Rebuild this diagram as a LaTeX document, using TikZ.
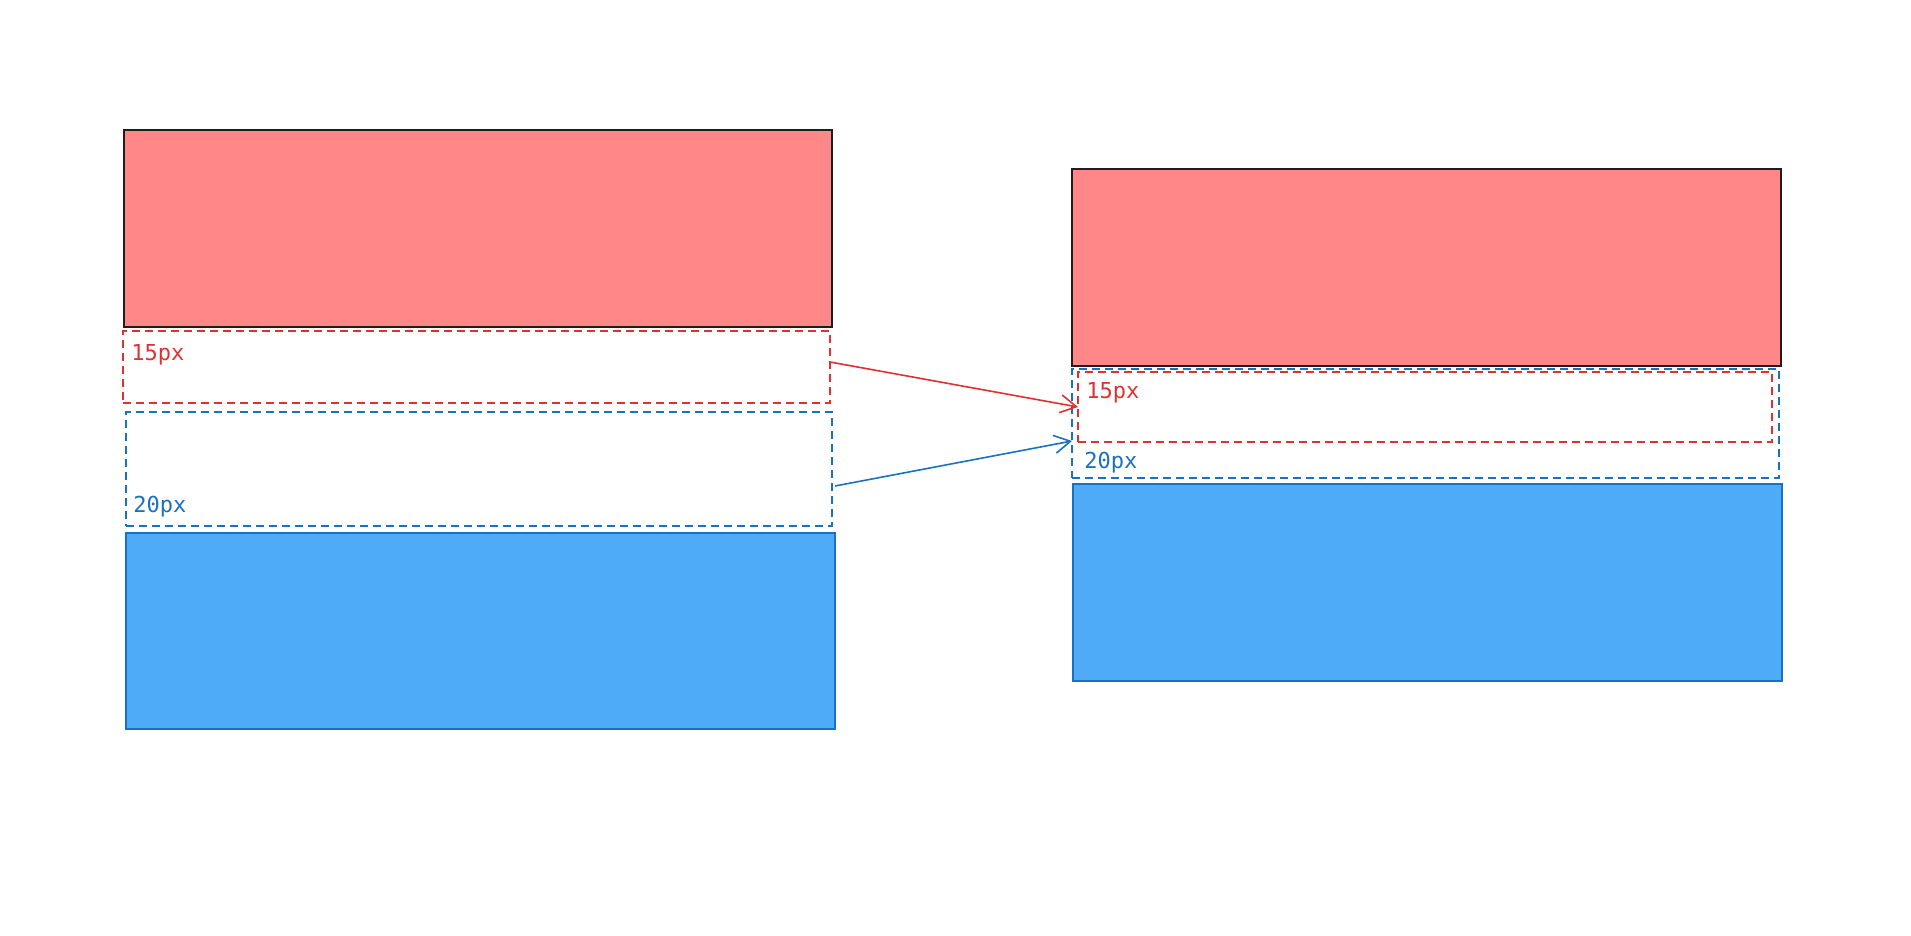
\documentclass[tikz,border=0pt]{standalone}
\usepackage{fontspec}
\setmonofont{DejaVu Sans Mono}
\usetikzlibrary{arrows.meta}

\definecolor{fillred}{RGB}{255,135,135}
\definecolor{fillblue}{RGB}{77,171,247}
\definecolor{strokered}{RGB}{224,49,49}
\definecolor{strokeblue}{RGB}{25,113,194}
\definecolor{strokeblack}{RGB}{30,30,30}

\tikzset{
  block/.style={draw, line width=0.75pt, inner sep=0pt, outer sep=0pt},
  gapbox/.style={draw, line width=0.75pt, inner sep=0pt, outer sep=0pt,
    dash pattern=on 4pt off 2.5pt},
  sizelabel/.style={inner sep=0pt, anchor=base west,
    font=\ttfamily\fontsize{11pt}{13pt}\selectfont},
  shiftarrow/.style={line width=0.8pt, -{Straight Barb[length=8pt,width=9pt]}}
}

\begin{document}
\begin{tikzpicture}[x=0.5pt, y=-0.5pt]
  \useasboundingbox (0,0) rectangle (1911,936);

  % Left column: red block, 15px gap, 20px padding, blue block
  \node [block, draw=strokeblack, fill=fillred,
    minimum width=354pt, minimum height=98.5pt] (redL) at (478,228.5) {};
  \node [gapbox, draw=strokered,
    minimum width=353.5pt, minimum height=36pt] (gapL) at (476.5,367) {};
  \node [gapbox, draw=strokeblue,
    minimum width=353pt, minimum height=57pt] (padL) at (479,469) {};
  \node [block, draw=strokeblue, fill=fillblue,
    minimum width=354.5pt, minimum height=98pt] (blueL) at (480.5,631) {};
  \node [sizelabel, text=strokered] (gapLabelL) at (131,360) {15px};
  \node [sizelabel, text=strokeblue] (padLabelL) at (133,512) {20px};

  % Right column: gap collapsed into padding
  \node [block, draw=strokeblack, fill=fillred,
    minimum width=354.5pt, minimum height=98.5pt] (redR) at (1426.5,267.5) {};
  \node [gapbox, draw=strokeblue,
    minimum width=353.5pt, minimum height=54.5pt] (padR) at (1425.5,423.5) {};
  \node [gapbox, draw=strokered,
    minimum width=347pt, minimum height=35pt] (gapR) at (1425,407) {};
  \node [block, draw=strokeblue, fill=fillblue,
    minimum width=354.5pt, minimum height=98.5pt] (blueR) at (1427.5,582.5) {};
  \node [sizelabel, text=strokered] (gapLabelR) at (1086,398) {15px};
  \node [sizelabel, text=strokeblue] (padLabelR) at (1084,468) {20px};

  % Arrows from left to right
  \draw [shiftarrow, strokered] ([yshift=2.5pt]gapL.east) -- (gapR.west);
  \draw [shiftarrow, strokeblue] ([xshift=1.5pt,yshift=-8.5pt]padL.east)
    -- ([yshift=-8.75pt]padR.west);
\end{tikzpicture}
\end{document}
